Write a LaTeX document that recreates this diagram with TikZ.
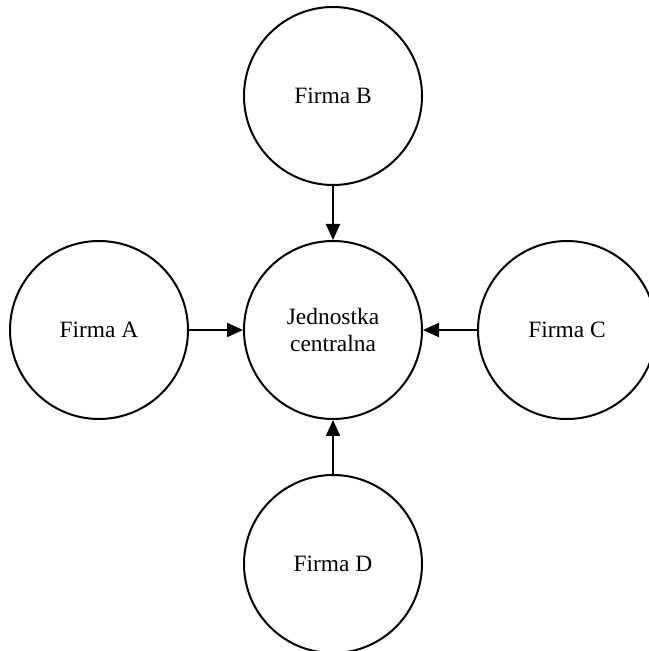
\documentclass[tikz,border=0pt]{standalone}
\usepackage{fontspec}
\setmainfont{Liberation Serif}
\usetikzlibrary{positioning,arrows.meta}

\begin{document}
\begin{tikzpicture}[
				firm/.style={circle, draw=black, line width=1pt, minimum size=89pt, inner sep=0pt, align=center, font=\fontsize{11.7}{13.5}\selectfont},
				node distance=27pt
			]
			\useasboundingbox (-166.5pt,165pt) rectangle (157.5pt,-160.5pt);
			\node[firm] (centre) at (0,0) {Jednostka\\centralna};
			\node[firm] (firmb) [above=of centre] {Firma B};
			\node[firm] (firma) [left=of centre] {Firma A};
			\node[firm] (firmc) [right=of centre] {Firma C};
			\node[firm] (firmd) [below=of centre] {Firma D};
			\begin{scope}[line width=1pt, -{Triangle[length=8pt,width=7pt]}]
			\draw (firmb.south) -- (centre.north);
			\draw (firma.east) -- (centre.west);
			\draw (firmc.west) -- (centre.east);
			\draw (firmd.north) -- (centre.south);
			\end{scope}
			\end{tikzpicture}
\end{document}
